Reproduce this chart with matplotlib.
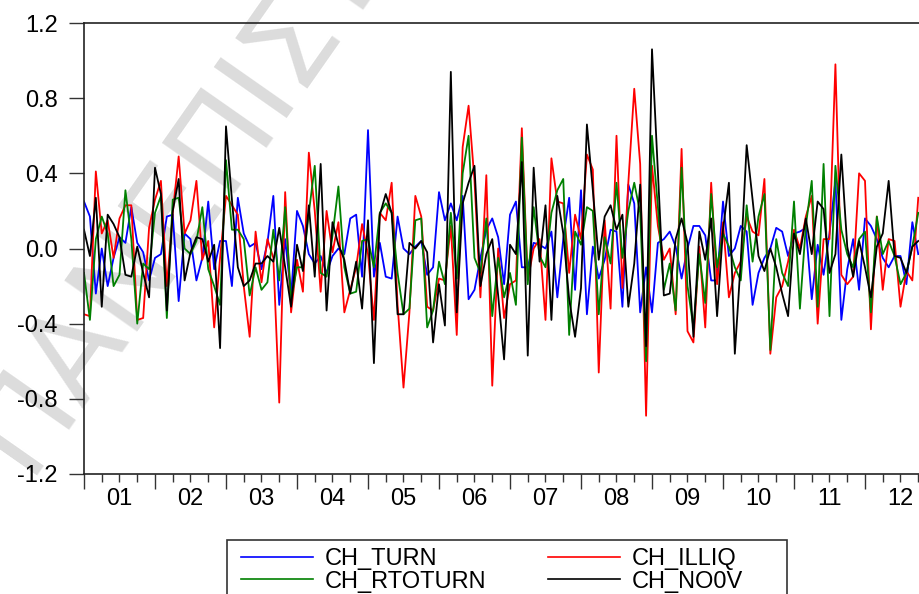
import numpy as np
import matplotlib
matplotlib.use('Agg')
import matplotlib.pyplot as plt
from matplotlib.ticker import FixedLocator
from matplotlib.patches import Rectangle

# monthly changes, Jan 2001 onwards (last months are outside the picture)
ch_turn = [0.25, 0.17, -0.24, 0.0, -0.2, -0.05, 0.06, 0.03, 0.22, 0.03, -0.02, -0.17,
           -0.05, -0.03, 0.17, 0.18, -0.28, 0.08, 0.05, -0.17, -0.05, 0.25, -0.11, 0.04,
           0.04, -0.2, 0.27, 0.08, 0.01, 0.03, -0.11, 0.03, 0.28, -0.3, 0.05, -0.25,
           0.2, 0.12, -0.03, -0.08, -0.04, -0.13, -0.04, 0.0, -0.03, 0.16, 0.18, -0.15,
           0.63, -0.15, 0.03, -0.15, -0.16, 0.17, 0.0, -0.03, 0.01, 0.04, -0.14, -0.1,
           0.3, 0.15, 0.24, 0.15, 0.28, -0.27, -0.22, -0.05, 0.1, 0.16, 0.06, -0.19,
           0.18, 0.25, -0.1, -0.1, 0.03, 0.02, 0.0, 0.09, -0.26, 0.05, 0.27, -0.22,
           0.31, -0.35, 0.01, -0.16, -0.06, 0.1, 0.09, -0.31, 0.34, 0.24, -0.34, -0.1,
           -0.34, 0.03, 0.05, 0.09, 0.01, -0.16, 0.0, 0.12, 0.12, 0.07, -0.17, -0.17,
           0.25, -0.04, 0.0, 0.12, 0.09, -0.3, -0.13, -0.05, 0.0, 0.11, 0.09, -0.04,
           0.08, 0.09, 0.11, -0.27, 0.02, -0.14, 0.08, 0.36, -0.38, -0.11, 0.05, -0.22,
           0.16, 0.12, 0.05, -0.05, -0.1, -0.04, -0.04, -0.19, 0.14, -0.03]

ch_illiq = [-0.35, -0.36, 0.41, 0.08, 0.15, -0.05, 0.16, 0.23, 0.23, -0.38, -0.37, 0.11,
            0.26, 0.36, -0.2, 0.19, 0.49, 0.08, 0.15, 0.36, -0.06, 0.04, -0.42, -0.05,
            0.28, 0.23, 0.18, -0.2, -0.47, 0.09, -0.18, 0.05, -0.05, -0.82, 0.3, -0.34,
            -0.06, -0.23, 0.51, 0.2, -0.23, 0.2, -0.02, 0.14, -0.34, -0.22, -0.1, 0.13,
            -0.03, -0.38, 0.19, 0.15, 0.35, -0.3, -0.74, -0.34, 0.28, 0.17, -0.31, -0.33,
            -0.16, -0.17, 0.12, -0.46, 0.54, 0.76, 0.36, -0.26, 0.39, -0.73, 0.0, -0.37,
            -0.19, -0.17, 0.64, -0.17, 0.0, 0.05, -0.38, 0.48, 0.25, 0.24, -0.13, 0.18,
            0.05, 0.5, 0.42, -0.66, 0.15, -0.32, 0.6, -0.21, 0.35, 0.85, 0.45, -0.89,
            0.44, 0.12, -0.06, 0.0, -0.35, 0.53, -0.44, -0.5, 0.01, -0.42, 0.35, -0.19,
            0.14, -0.26, -0.13, -0.07, 0.17, 0.09, 0.07, 0.37, -0.56, -0.26, -0.2, -0.07,
            0.1, 0.0, 0.17, 0.28, -0.4, 0.05, 0.05, 0.98, -0.14, -0.19, -0.15, 0.4,
            0.36, -0.43, 0.17, -0.22, 0.05, 0.04, -0.31, -0.12, -0.17, 0.27]

ch_rtoturn = [-0.13, -0.38, 0.05, 0.17, 0.08, -0.2, -0.14, 0.31, 0.05, -0.4, -0.08, -0.11,
              0.19, 0.28, -0.37, 0.26, 0.27, 0.0, -0.03, 0.04, 0.22, -0.11, -0.2, -0.3,
              0.47, 0.1, 0.1, 0.05, -0.25, -0.1, -0.22, -0.18, 0.1, -0.17, 0.22, -0.27,
              -0.1, -0.1, 0.19, 0.44, -0.13, -0.15, 0.07, 0.33, -0.1, -0.24, -0.23, 0.04,
              0.05, -0.1, 0.19, 0.24, 0.19, -0.13, -0.35, -0.32, 0.15, 0.16, -0.42, -0.33,
              -0.07, -0.19, 0.19, -0.16, 0.4, 0.6, -0.05, -0.13, 0.16, -0.36, -0.05, -0.26,
              -0.13, -0.3, 0.59, -0.19, 0.22, -0.04, -0.1, 0.19, 0.31, 0.37, -0.46, 0.09,
              0.02, 0.22, 0.2, -0.35, 0.06, -0.08, 0.35, -0.05, 0.2, 0.35, 0.19, -0.6,
              0.6, 0.22, -0.22, -0.08, -0.33, 0.43, -0.2, -0.42, -0.03, -0.29, 0.29, -0.1,
              0.08, 0.01, -0.1, -0.17, 0.23, -0.07, 0.17, 0.29, -0.54, 0.05, -0.13, -0.2,
              0.25, -0.32, 0.12, 0.36, -0.31, 0.45, -0.36, 0.44, 0.1, -0.03, -0.1, 0.05,
              0.09, -0.34, 0.17, -0.03, 0.04, -0.04, -0.19, -0.13, 0.01, 0.19]

ch_no0v = [0.1, -0.04, 0.27, -0.31, 0.18, 0.13, 0.06, -0.14, -0.15, 0.01, -0.13, -0.26,
           0.43, 0.29, -0.33, 0.2, 0.37, -0.17, -0.02, 0.06, 0.05, -0.07, 0.02, -0.53,
           0.65, 0.26, -0.1, -0.2, -0.17, -0.08, -0.08, -0.04, -0.07, 0.11, -0.1, -0.31,
           0.02, -0.12, 0.23, -0.15, 0.45, -0.33, 0.14, 0.02, -0.06, -0.24, -0.07, -0.32,
           0.15, -0.61, 0.18, 0.29, 0.19, -0.35, -0.35, 0.03, 0.0, 0.04, -0.02, -0.5,
           -0.19, -0.41, 0.94, -0.34, 0.24, 0.35, 0.44, -0.2, -0.03, 0.05, -0.25, -0.59,
           0.02, -0.03, 0.46, -0.57, 0.43, -0.07, 0.23, -0.38, 0.28, 0.08, -0.27, -0.47,
           -0.21, 0.66, 0.31, -0.06, 0.17, 0.23, 0.1, 0.18, -0.31, -0.08, 0.34, -0.52,
           1.06, 0.4, -0.25, -0.24, 0.05, 0.16, 0.03, -0.47, 0.09, -0.06, 0.16, -0.36,
           0.1, 0.35, -0.56, -0.07, 0.55, 0.26, -0.04, -0.12, 0.0, -0.1, -0.24, -0.36,
           0.08, -0.03, 0.16, -0.03, 0.25, 0.21, -0.13, -0.03, 0.5, 0.01, -0.15, 0.04,
           -0.1, -0.26, 0.01, 0.08, 0.36, -0.04, -0.05, -0.13, 0.01, 0.04]

series_names = ['CH_TURN', 'CH_ILLIQ', 'CH_RTOTURN', 'CH_NO0V']
series_colors = ['#0000ff', '#ff0000', '#008000', '#000000']
year_labels = ['01', '02', '03', '04', '05', '06', '07', '08', '09', '10', '11', '12']
y_ticks = [-1.2, -0.8, -0.4, 0.0, 0.4, 0.8, 1.2]

plt.rcParams['font.family'] = ['Liberation Sans', 'DejaVu Sans']
FS = 17

W, H = 920, 594
fig = plt.figure(figsize=(W / 100, H / 100), dpi=100)

# watermark behind everything
fig.text(25 / W, 1 - 475 / H, 'ΠΑΝΕΠΙΣΤΗΜΙΟ', fontsize=88, color='#dcdcdc',
         rotation=55, rotation_mode='anchor', ha='left', va='baseline',
         family='DejaVu Sans', zorder=-5)

# plot area: 84..936 px wide (right part cut off by the image), 23..474 px high
ax = fig.add_axes([84 / W, 1 - 474 / H, 852 / W, 451 / H])
ax.set_facecolor('none')

data = [ch_turn, ch_illiq, ch_rtoturn, ch_no0v]
lines = []
for vals, name, col in zip(data, series_names, series_colors):
    x = 2001 + np.arange(len(vals)) / 12.0
    ln, = ax.plot(x, vals, color=col, lw=1.3, label=name)
    lines.append(ln)

ax.set_xlim(2001, 2013)
ax.set_ylim(-1.2, 1.2)
ax.set_yticks(y_ticks)
ax.set_yticklabels(['%.1f' % v for v in y_ticks])

years = np.arange(2001, 2014)
ax.set_xticks(years)
ax.set_xticklabels([])
ax.xaxis.set_minor_locator(FixedLocator([y + q / 4 for y in years[:-1] for q in (1, 2, 3)]))
ax.tick_params(axis='x', which='major', direction='out', length=11, width=1, color='#333333')
ax.tick_params(axis='x', which='minor', direction='out', length=6, width=1, color='#333333')
ax.tick_params(axis='y', direction='out', length=11, width=1, color='#333333',
               labelsize=FS, pad=8)

sec = ax.secondary_xaxis('bottom')
sec.set_xticks(years[:-1] + 0.5)
sec.set_xticklabels(year_labels)
sec.tick_params(length=0, labelsize=FS, pad=10)
sec.spines['bottom'].set_visible(False)

for s in ax.spines.values():
    s.set_linewidth(1.2)
    s.set_color('#222222')
ax.spines['right'].set_visible(False)

# legend: rows TURN / ILLIQ and RTOTURN / NO0V, box drawn separately
order = [0, 2, 1, 3]
leg = fig.legend([lines[i] for i in order], [series_names[i] for i in order], ncol=2,
                 loc='upper left', bbox_to_anchor=(234 / W, 1 - 541 / H), fontsize=FS,
                 frameon=False, handlelength=3.05, handletextpad=0.5,
                 columnspacing=2.6, labelspacing=0.02, borderpad=0.3, borderaxespad=0)
for h in leg.get_lines():
    h.set_linewidth(1.2)

fig.patches.append(Rectangle((227 / W, -0.05), (787 - 227) / W, 0.05 + (594 - 540) / H,
                             transform=fig.transFigure, fill=False,
                             edgecolor='#333333', lw=1.2))

fig.savefig('out.png', dpi=100)
